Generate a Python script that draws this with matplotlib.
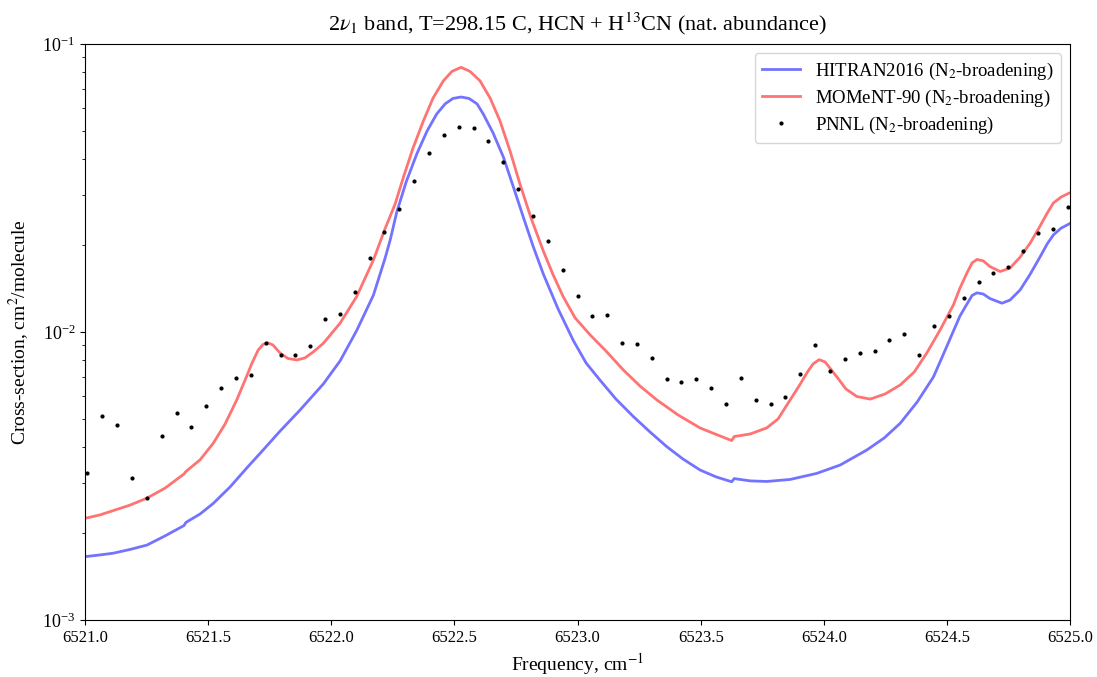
import matplotlib
matplotlib.use('Agg')
import matplotlib.pyplot as plt
import numpy as np
from matplotlib.ticker import FormatStrFormatter

plt.rcParams['font.family'] = 'Liberation Serif'
plt.rcParams['mathtext.fontset'] = 'stix'
plt.rcParams['font.size'] = 12

# HITRAN2016 model, log10 of cross-section
hitran_freq = [6521.000, 6521.061, 6521.115, 6521.183, 6521.251, 6521.325, 6521.402,
               6521.410, 6521.467, 6521.521, 6521.589, 6521.657, 6521.723, 6521.792,
               6521.873, 6521.968, 6522.036, 6522.103, 6522.171, 6522.218, 6522.239,
               6522.266, 6522.304, 6522.347, 6522.389, 6522.428, 6522.462, 6522.494,
               6522.527, 6522.559, 6522.592, 6522.617, 6522.657, 6522.699, 6522.738,
               6522.780, 6522.819, 6522.861, 6522.921, 6522.983, 6523.035, 6523.091,
               6523.156, 6523.227, 6523.294, 6523.362, 6523.428, 6523.497, 6523.562,
               6523.626, 6523.636, 6523.701, 6523.768, 6523.863, 6523.971, 6524.066,
               6524.174, 6524.245, 6524.310, 6524.379, 6524.445, 6524.484, 6524.526,
               6524.553, 6524.581, 6524.602, 6524.622, 6524.647, 6524.675, 6524.723,
               6524.756, 6524.797, 6524.838, 6524.878, 6524.907, 6524.932, 6524.964,
               6525.000]
hitran_log = [-2.780, -2.774, -2.768, -2.755, -2.740, -2.708, -2.672,
              -2.661, -2.632, -2.595, -2.538, -2.472, -2.410, -2.344,
              -2.271, -2.180, -2.100, -1.995, -1.872, -1.745, -1.681,
              -1.583, -1.479, -1.382, -1.302, -1.243, -1.208, -1.189,
              -1.184, -1.189, -1.208, -1.243, -1.309, -1.393, -1.493,
              -1.602, -1.701, -1.799, -1.920, -2.030, -2.108, -2.167,
              -2.233, -2.294, -2.347, -2.398, -2.441, -2.479, -2.503,
              -2.520, -2.509, -2.517, -2.519, -2.512, -2.491, -2.462,
              -2.410, -2.368, -2.317, -2.243, -2.156, -2.080, -1.997,
              -1.944, -1.903, -1.873, -1.864, -1.868, -1.884, -1.900,
              -1.889, -1.854, -1.799, -1.739, -1.694, -1.663, -1.639,
              -1.623]

# MOMeNT-90 model, log10 of cross-section
moment_freq = [6521.000, 6521.061, 6521.115, 6521.183, 6521.251, 6521.325, 6521.402,
               6521.410, 6521.467, 6521.521, 6521.569, 6521.616, 6521.650, 6521.678,
               6521.703, 6521.723, 6521.743, 6521.763, 6521.792, 6521.824, 6521.861,
               6521.893, 6521.927, 6521.968, 6522.036, 6522.103, 6522.171, 6522.218,
               6522.259, 6522.293, 6522.332, 6522.374, 6522.413, 6522.455, 6522.490,
               6522.527, 6522.563, 6522.604, 6522.645, 6522.685, 6522.726, 6522.766,
               6522.811, 6522.861, 6522.901, 6522.942, 6522.990, 6523.051, 6523.112,
               6523.186, 6523.254, 6523.322, 6523.408, 6523.497, 6523.558, 6523.626,
               6523.636, 6523.701, 6523.768, 6523.814, 6523.863, 6523.904, 6523.931,
               6523.956, 6523.981, 6524.005, 6524.053, 6524.090, 6524.134, 6524.188,
               6524.249, 6524.310, 6524.367, 6524.418, 6524.472, 6524.526, 6524.553,
               6524.581, 6524.602, 6524.622, 6524.647, 6524.675, 6524.716, 6524.756,
               6524.797, 6524.838, 6524.878, 6524.907, 6524.932, 6524.964, 6525.000]
moment_log = [-2.647, -2.635, -2.620, -2.601, -2.577, -2.542, -2.493,
              -2.484, -2.444, -2.386, -2.319, -2.236, -2.167, -2.108,
              -2.063, -2.043, -2.038, -2.045, -2.073, -2.092, -2.097,
              -2.090, -2.069, -2.039, -1.969, -1.877, -1.750, -1.642,
              -1.556, -1.462, -1.361, -1.267, -1.188, -1.128, -1.095,
              -1.081, -1.095, -1.128, -1.188, -1.267, -1.372, -1.486,
              -1.604, -1.719, -1.802, -1.878, -1.951, -2.010, -2.063,
              -2.132, -2.188, -2.236, -2.288, -2.333, -2.354, -2.377,
              -2.363, -2.354, -2.333, -2.302, -2.236, -2.181, -2.142,
              -2.111, -2.096, -2.104, -2.156, -2.198, -2.224, -2.233,
              -2.215, -2.184, -2.139, -2.073, -1.993, -1.906, -1.847,
              -1.795, -1.760, -1.748, -1.753, -1.773, -1.790, -1.778,
              -1.740, -1.691, -1.632, -1.587, -1.552, -1.531, -1.516]

# PNNL measured spectrum (0.0603 cm-1 grid)
pnnl_start = 6521.01
pnnl_step = 0.0603
pnnl_xsec = [3.236e-3, 5.105e-3, 4.753e-3, 3.112e-3, 2.642e-3, 4.355e-3, 5.236e-3,
             4.677e-3, 5.521e-3, 6.397e-3, 6.918e-3, 7.096e-3, 9.162e-3, 8.299e-3,
             8.318e-3, 8.933e-3, 1.109e-2, 1.159e-2, 1.374e-2, 1.807e-2, 2.218e-2,
             2.673e-2, 3.342e-2, 4.169e-2, 4.819e-2, 5.152e-2, 5.117e-2, 4.592e-2,
             3.908e-2, 3.126e-2, 2.518e-2, 2.065e-2, 1.637e-2, 1.330e-2, 1.138e-2,
             1.143e-2, 9.162e-3, 9.078e-3, 8.128e-3, 6.871e-3, 6.699e-3, 6.871e-3,
             6.397e-3, 5.623e-3, 6.918e-3, 5.808e-3, 5.623e-3, 5.943e-3, 7.145e-3,
             9.016e-3, 7.328e-3, 8.072e-3, 8.472e-3, 8.610e-3, 9.376e-3, 9.863e-3,
             8.318e-3, 1.052e-2, 1.132e-2, 1.315e-2, 1.496e-2, 1.607e-2, 1.679e-2,
             1.910e-2, 2.213e-2, 2.280e-2, 2.710e-2]
pnnl_freq = pnnl_start + pnnl_step * np.arange(len(pnnl_xsec))

fig = plt.figure(figsize=(10.97, 6.77), dpi=100)
ax = fig.add_axes([0.0775, 0.0842, 0.898, 0.8508])

ax.plot(hitran_freq, 10 ** np.array(hitran_log), color='blue', alpha=0.55, lw=2,
        label='HITRAN2016 (N$_2$-broadening)')
ax.plot(moment_freq, 10 ** np.array(moment_log), color='red', alpha=0.55, lw=2,
        label='MOMeNT-90 (N$_2$-broadening)')
ax.plot(pnnl_freq, pnnl_xsec, 'k.', ms=4, label='PNNL (N$_2$-broadening)')

ax.set_yscale('log')
ax.set_xlim(6521, 6525)
ax.set_ylim(1e-3, 1e-1)
ax.xaxis.set_major_formatter(FormatStrFormatter('%.1f'))
ax.tick_params(axis='y', which='major', labelsize=13)
ax.set_xlabel('Frequency, cm$^{-1}$', fontsize=14)
ax.set_ylabel('Cross-section, cm$^2$/molecule', fontsize=14, labelpad=8)
ax.set_title('2$\\nu_1$ band, T=298.15 C, HCN + H$^{13}$CN (nat. abundance)',
             fontsize=16, pad=10)
ax.legend(loc='upper right', fontsize=13.5, labelspacing=0.3, borderpad=0.4)

fig.savefig('out.png', dpi=100)
